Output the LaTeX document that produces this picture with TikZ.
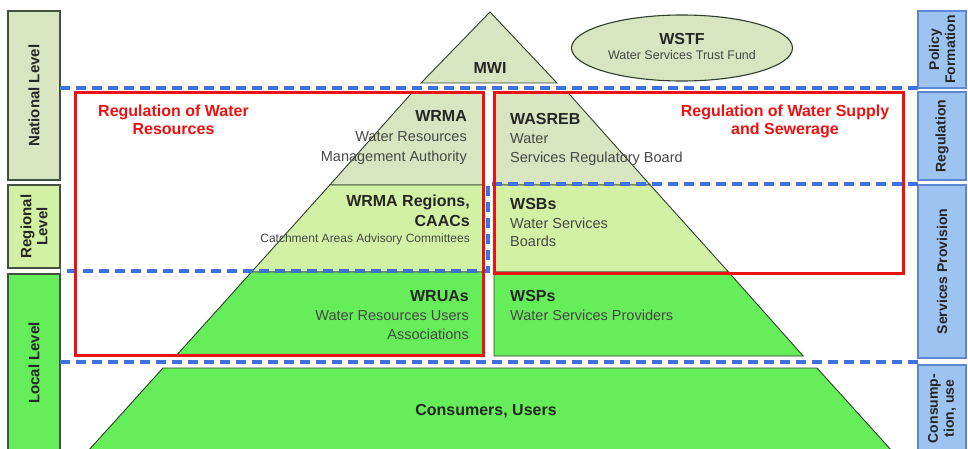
\documentclass[tikz,border=0pt]{standalone}
\usepackage{fontspec}
\setmainfont{Liberation Sans}
\usetikzlibrary{shapes.geometric}
\definecolor{khaki}{HTML}{D9E5C0}
\definecolor{regcol}{HTML}{D3F1A5}
\definecolor{brgreen}{HTML}{66EE5A}
\definecolor{bluebox}{HTML}{9DC3F0}
\definecolor{blueline}{HTML}{5F86D4}
\definecolor{bluedash}{HTML}{3F72DC}
\definecolor{redline}{HTML}{EE1111}
\definecolor{txt}{HTML}{262626}
\definecolor{outl}{HTML}{2E3E2E}
\tikzset{
  pyr/.style={draw=outl, line width=0.9pt},
  lbox/.style={draw=outl!90, line width=1.4pt, rotate=90, align=center, inner sep=0pt,
     font=\fontsize{15}{16}\selectfont\bfseries, text=txt},
  rbox/.style={draw=blueline, fill=bluebox, line width=1.2pt, rotate=90, align=center, inner sep=0pt,
     font=\fontsize{14}{16}\selectfont\bfseries, text=txt, minimum height=48pt},
  bdash/.style={draw=bluedash, line width=3.5pt, dash pattern=on 10pt off 6pt},
  redbox/.style={draw=redline, line width=3pt},
  hd/.style={inner sep=0pt, font=\fontsize{16}{18}\selectfont\bfseries, text=txt},
  bd/.style={inner sep=0pt, font=\fontsize{14.5}{16}\selectfont, text=txt!85},
  sm/.style={inner sep=0pt, font=\fontsize{12}{14}\selectfont, text=txt!85},
  rt/.style={inner sep=0pt, font=\fontsize{16}{18}\selectfont\bfseries, text=redline},
}
\begin{document}
\begin{tikzpicture}[x=1pt,y=-1pt]
\useasboundingbox (0,0) rectangle (968,449);
\fill[white] (0,0) rectangle (968,449);

% side boxes left
\node[lbox, fill=khaki, minimum width=169pt, minimum height=52pt] (nat) at (34,95.5) {National Level};
\node[lbox, fill=regcol, minimum width=83pt, minimum height=52pt] (reg) at (34,226.5) {Regional\\Level};
\node[lbox, fill=brgreen, minimum width=178pt, minimum height=52pt] (loc) at (34,363) {Local Level};

% side boxes right
\node[rbox, minimum width=77pt] (pol) at (942,49.5) {Policy\\Formation};
\node[rbox, minimum width=88pt] (regu) at (942,136) {Regulation};
\node[rbox, minimum width=173pt] (serv) at (942,271.5) {Services Provision};
\node[rbox, minimum width=87pt] (cons) at (942,408.5) {Consump-\\tion, use};

% pyramid
\draw[pyr, fill=khaki] (490,12) -- (421,83) -- (557,83) -- cycle;
\draw[pyr, fill=khaki] (412.6,92) -- (483,92) -- (483,185) -- (329.8,185) -- cycle;
\draw[pyr, fill=regcol] (329.8,185) -- (483,185) -- (483,272) -- (251.5,272) -- cycle;
\draw[pyr, fill=brgreen] (251.5,272) -- (483,272) -- (483,355) -- (176.8,355) -- cycle;
\draw[pyr, fill=khaki] (494,92) -- (567.4,92) -- (650.2,185) -- (494,185) -- cycle;
\draw[pyr, fill=regcol] (494,185) -- (650.2,185) -- (728.5,272) -- (494,272) -- cycle;
\draw[pyr, fill=brgreen] (494,272) -- (728.5,272) -- (803.2,356) -- (494,356) -- cycle;
\draw[pyr, fill=brgreen] (163,368) -- (817,368) -- (892,451) -- (88,451) -- cycle;

% WSTF ellipse
\node[ellipse, draw=outl, line width=1.1pt, fill=khaki, minimum width=221pt, minimum height=66pt] (wstf) at (682,48) {};

% blue dashed level lines
\draw[bdash] (60,88) -- (918,88);
\draw[bdash] (918,184) -- (488,184) -- (488,271) -- (60,271);
\draw[bdash] (60,362) -- (918,362);

% red boxes
\draw[redbox] (75,93) rectangle (483,355);
\draw[redbox] (494,93) rectangle (903,273);

% texts
\node[hd, anchor=base] (mwi) at (490,74) {MWI};
\node[hd, anchor=base] (wstfA) at (682,45) {WSTF};
\node[sm, anchor=base, font=\fontsize{12.5}{14}\selectfont] (wstfB) at (682,60) {Water Services Trust Fund};

\node[rt, anchor=base] (rl1) at (173.5,116.5) {Regulation of Water};
\node[rt, anchor=base] (rl2) at (173.5,135) {Resources};
\node[rt, anchor=base] (rr1) at (785,116.5) {Regulation of Water Supply};
\node[rt, anchor=base] (rr2) at (785,135) {and Sewerage};

\node[hd, anchor=base east] (wrma1) at (467,122) {WRMA};
\node[bd, anchor=base east] (wrma2) at (467,141.5) {Water Resources};
\node[bd, anchor=base east] (wrma3) at (467,161) {Management Authority};

\node[hd, anchor=base east] (wr1) at (470,206) {WRMA Regions,};
\node[hd, anchor=base east] (wr2) at (470,226.5) {CAACs};
\node[sm, anchor=base east] (wr3) at (470,242.5) {Catchment Areas Advisory Committees};

\node[hd, anchor=base east] (wu1) at (469,301) {WRUAs};
\node[bd, anchor=base east] (wu2) at (469,320) {Water Resources Users};
\node[bd, anchor=base east] (wu3) at (469,339) {Associations};

\node[hd, anchor=base west] (wa1) at (510,125) {WASREB};
\node[bd, anchor=base west] (wa2) at (510,144) {Water};
\node[bd, anchor=base west] (wa3) at (510,163) {Services Regulatory Board};

\node[hd, anchor=base west] (wb1) at (510,209) {WSBs};
\node[bd, anchor=base west] (wb2) at (510,228) {Water Services};
\node[bd, anchor=base west] (wb3) at (510,246.5) {Boards};

\node[hd, anchor=base west] (wp1) at (510,301) {WSPs};
\node[bd, anchor=base west] (wp2) at (510,320) {Water Services Providers};

\node[hd, anchor=base] (cu) at (486,415) {Consumers, Users};
\end{tikzpicture}
\end{document}
